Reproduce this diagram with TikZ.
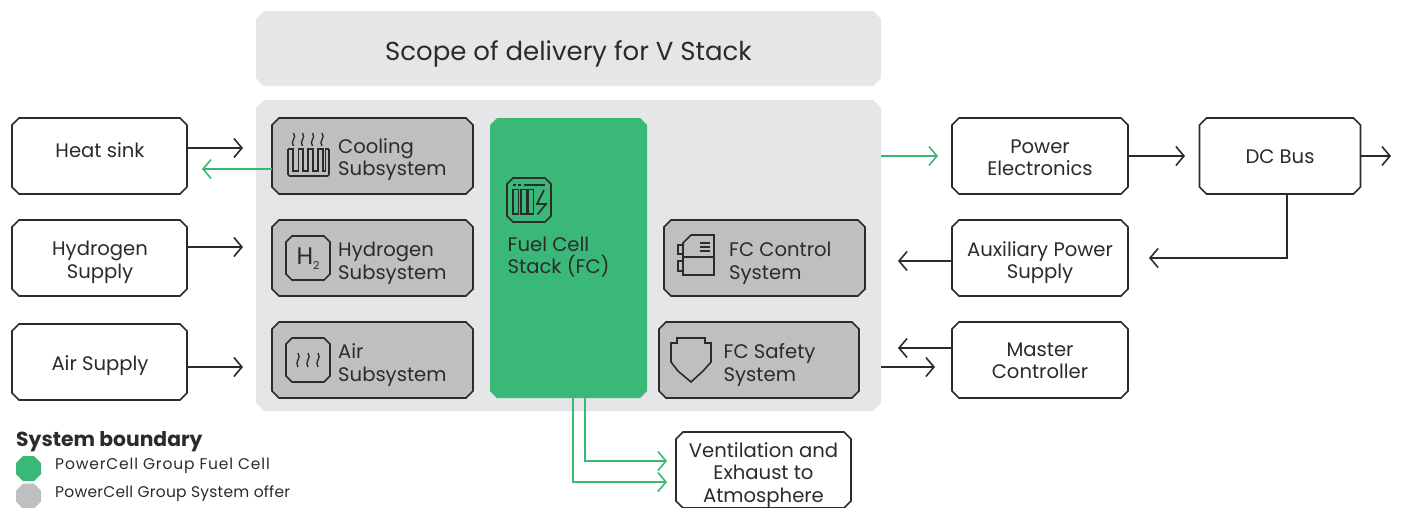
\documentclass[tikz,border=0pt]{standalone}
\usepackage{fontspec}
\setmainfont{Poppins}
\usetikzlibrary{arrows.meta}
\definecolor{gr}{HTML}{3AB878}
\definecolor{gy}{HTML}{BDBFC1}
\definecolor{lt}{HTML}{E5E6E8}
\definecolor{dk}{HTML}{2B2B2B}
\tikzset{
 x=1pt,y=-1pt,
 wbox/.style={draw=dk,line width=1.6pt,fill=white},
 gbox/.style={draw=dk,line width=1.6pt,fill=gy},
 panel/.style={fill=lt},
 grfill/.style={fill=gr},
 gyfill/.style={fill=gy},
 txt/.style={align=center,text=dk,inner sep=0pt,font=\fontsize{19.6}{22.5}\selectfont},
 lab/.style={anchor=west,align=left,text=dk,inner sep=0pt,font=\fontsize{19.6}{22.5}\selectfont},
 icon/.style={draw=dk,line width=1.6pt,line join=miter},
 arr/.style={draw=dk,line width=1.6pt,-{Straight Barb[length=8pt,width=19pt,line width=1.6pt]}},
 garr/.style={draw=gr,line width=1.6pt,-{Straight Barb[length=8pt,width=19pt,line width=1.6pt]}},
}
% \cbox{style}{name}{cx}{cy}{w}{h}{chamfer}
\newcommand{\cbox}[7]{%
 \path[#1] (#3-#5/2+#7,#4-#6/2) -- (#3+#5/2-#7,#4-#6/2) -- (#3+#5/2,#4-#6/2+#7) -- (#3+#5/2,#4+#6/2-#7)
  -- (#3+#5/2-#7,#4+#6/2) -- (#3-#5/2+#7,#4+#6/2) -- (#3-#5/2,#4+#6/2-#7) -- (#3-#5/2,#4-#6/2+#7) -- cycle;
 \node[rectangle,inner sep=0pt,outer sep=0pt,minimum width=#5pt,minimum height=#6pt] (#2) at (#3,#4) {};
}
\newcommand{\squig}[3]{\draw[icon,line width=1.3pt] (#1,#2) .. controls (#1+4,#2+#3*0.35) and (#1-4,#2+#3*0.65) .. (#1,#2+#3);}
\begin{document}
\begin{tikzpicture}
\useasboundingbox (0,0) rectangle (1403,507);
% panels
\cbox{panel}{scope}{568.5}{48.5}{625}{75}{8}
\cbox{panel}{sys}{568.5}{255.5}{625}{311}{8}
\node[text=dk,inner sep=0pt,font=\fontsize{26}{30}\selectfont] (tscope) at (568.5,53.5) {Scope of delivery for V Stack};
% left boxes
\cbox{wbox}{heat}{99.5}{156}{175}{76}{7}
\cbox{wbox}{hyd}{99.5}{258}{175}{76}{7}
\cbox{wbox}{air}{99.5}{362}{175}{76}{7}
\node[txt] (theat) at (100,150.5) {Heat sink};
\node[txt] (thyd) at (100,262.5) {Hydrogen\\Supply};
\node[txt] (tair) at (100,366) {Air Supply};
% subsystems
\cbox{gbox}{cool}{372.5}{156}{201}{76}{7}
\cbox{gbox}{hsub}{372.5}{258}{201}{76}{7}
\cbox{gbox}{asub}{372.5}{360}{201}{76}{7}
\cbox{grfill}{stack}{568.5}{258}{157}{280}{7}
\cbox{gbox}{ctrl}{764.5}{258}{201}{76}{7}
\cbox{gbox}{safe}{759}{360}{200}{76}{7}
\node[lab] (t1) at (338,159.5) {Cooling\\Subsystem};
\node[lab] (t2) at (338,263.5) {Hydrogen\\Subsystem};
\node[lab] (t3) at (338,365) {Air\\Subsystem};
\node[lab] (t4) at (507.5,257) {Fuel Cell\\Stack (FC)};
\node[lab] (t5) at (729,263.5) {FC Control\\System};
\node[lab] (t6) at (723.5,365) {FC Safety\\System};
% right boxes
\cbox{wbox}{pe}{1040}{156}{176}{76}{7}
\cbox{wbox}{dc}{1280}{156}{161}{76}{7}
\cbox{wbox}{aux}{1040}{258}{176}{76}{7}
\cbox{wbox}{mc}{1040}{360}{176}{76}{7}
\cbox{wbox}{vent}{763.5}{470}{175}{76}{7}
\node[txt] (tpe) at (1040,158) {Power\\Electronics};
\node[txt] (tdc) at (1280,157) {DC Bus};
\node[txt] (taux) at (1040,262.5) {Auxiliary Power\\Supply};
\node[txt] (tmc) at (1040,361) {Master\\Controller};
\node[txt] (tvent) at (763.5,475) {Ventilation and\\Exhaust to\\Atmosphere};
% free ends
\coordinate (e1) at (243,148);
\coordinate (e2) at (202,169);
\coordinate (e3) at (243,247);
\coordinate (e4) at (243,367);
\coordinate (e5) at (938,156);
\coordinate (e6) at (1391,156);
\coordinate (e7) at (898,261);
\coordinate (e8) at (898,348);
\coordinate (e9) at (935,367);
\coordinate (e10) at (1149,258);
\coordinate (e11) at (667,461);
\coordinate (e12) at (667,482);
\coordinate (e13) at (1185,156);
\coordinate (j1) at (1287,194);
\coordinate (j2) at (585,398);
\coordinate (j3) at (573,398);
% connectors
\draw[arr] (heat.east |- e1) -- (e1);
\draw[garr] (cool.west |- e2) -- (e2);
\draw[arr] (hyd.east |- e3) -- (e3);
\draw[arr] (air.east |- e4) -- (e4);
\draw[garr] (sys.east |- e5) -- (e5);
\draw[arr] (pe.east) -- (e13);
\draw[arr] (dc.east) -- (e6);
\draw[arr] (aux.west |- e7) -- (e7);
\draw[arr] (mc.west |- e8) -- (e8);
\draw[arr] (sys.east |- e9) -- (e9);
\draw[arr] (j1) |- (e10);
\draw[garr] (j2) |- (e11);
\draw[garr] (j3) |- (e12);
% legend
\node[anchor=west,inner sep=0pt,text=dk,font=\fontsize{20.3}{24}\selectfont\bfseries] (lg) at (16,442) {System boundary};
\cbox{grfill}{k1}{28.5}{468.5}{25}{25}{7}
\cbox{gyfill}{k2}{28.5}{496}{25}{25}{7}
\node[anchor=west,inner sep=0pt,text=dk,font=\fontsize{15.5}{17}\selectfont\addfontfeature{LetterSpace=5.4}] (l1) at (55,466) {PowerCell Group Fuel Cell};
\node[anchor=west,inner sep=0pt,text=dk,font=\fontsize{15.5}{17}\selectfont\addfontfeature{LetterSpace=1.5}] (l2) at (55,494) {PowerCell Group System offer};
% cooling icon
\squig{293.5}{133}{13}\squig{302.5}{133}{13}\squig{312.5}{133}{13}\squig{322}{133}{13}
\draw[icon,rounded corners=2pt] (288,149) -- (288,176) -- (329,176) -- (329,149);
\draw[icon,line width=1.3pt] (288,149) -- (293,149) -- (293,171) -- (298.5,171) -- (298.5,149) -- (303,149) -- (303,171) -- (308,171) -- (308,149) -- (313,149) -- (313,171) -- (318,171) -- (318,149) -- (323,149) -- (323,171) -- (325.5,171) -- (325.5,149) -- (329,149);
% H2 icon
\cbox{icon}{ih}{308}{258}{44}{44}{6}
\node[inner sep=0pt,text=dk,font=\fontsize{24}{26}\selectfont] (th2) at (308,259) {H\raisebox{-5pt}{\fontsize{11}{12}\selectfont 2}};
% air icon
\cbox{icon}{ia}{308}{360}{44}{44}{6}
\squig{298}{353}{14}\squig{308}{353}{14}\squig{318}{353}{14}
% fuel cell icon
\cbox{icon}{is}{529}{200}{44}{44}{6}
\draw[icon] (513,185) -- (516,185) (518,185) -- (521,185) (524,185) -- (545,185);
\draw[icon] (513,189.5) rectangle (518.5,214) (521,189.5) rectangle (526.5,214) (528,189.5) rectangle (533.5,214);
\draw[icon] (544,190) -- (537,204) -- (546,204) -- (537.5,214.5);
% control icon
\draw[icon] (683,243) -- (691,235) -- (714,235) -- (714,275) -- (683,275) -- cycle;
\draw[icon] (683,257) -- (714,257);
\draw[icon] (683,245) -- (678,245) -- (678,254) -- (683,254);
\draw[icon] (683,261) -- (678,261) -- (678,271) -- (683,271);
\draw[icon,line width=1.2pt] (700,243) -- (710,243) (700,247) -- (710,247) (700,251) -- (710,251);
% shield icon
\draw[icon] (671,343) -- (677,343) -- (677,338) -- (705,338) -- (705,343) -- (711,343) -- (711,362) -- (703,371) -- (691,382) -- (678,371) -- (671,362) -- cycle;
\end{tikzpicture}
\end{document}
